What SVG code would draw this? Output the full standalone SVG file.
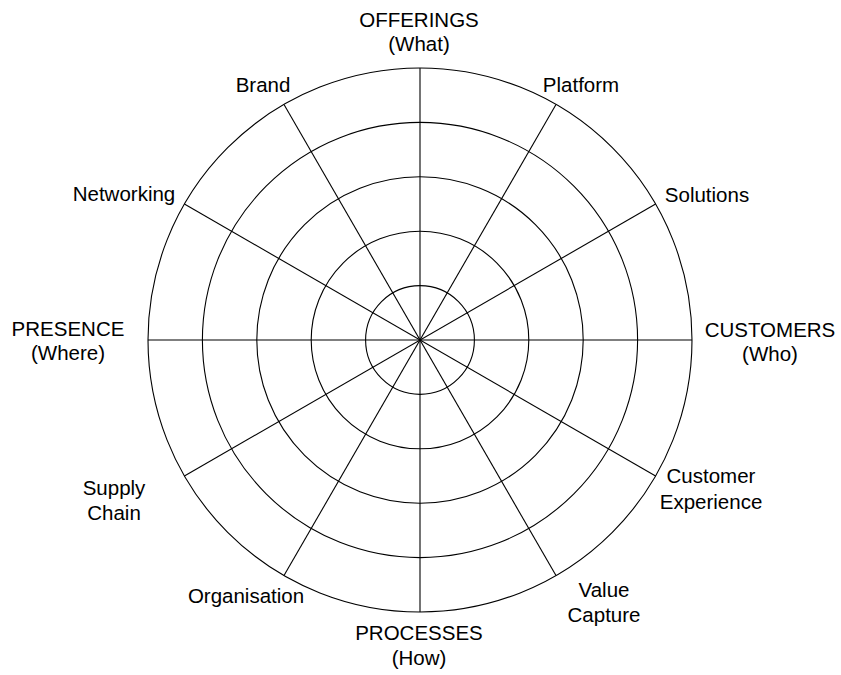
<svg xmlns="http://www.w3.org/2000/svg" width="841" height="675" viewBox="0 0 841 675">
<style>
.ring{fill:none;stroke:#000;stroke-width:1.1}
.spoke{stroke:#000;stroke-width:1.1}
text{font-family:"Liberation Sans",Arial,sans-serif;font-size:20.5px;fill:#000;text-anchor:middle}
</style>
<rect width="841" height="675" fill="#fff"/>
<g id="rings">
<circle class="ring" cx="420" cy="340" r="54.4"/>
<circle class="ring" cx="420" cy="340" r="108.8"/>
<circle class="ring" cx="420" cy="340" r="163.2"/>
<circle class="ring" cx="420" cy="340" r="217.6"/>
<circle class="ring" cx="420" cy="340" r="272"/>
</g>
<g id="connectors">
<line class="spoke" x1="420" y1="68" x2="420" y2="612"/>
<line class="spoke" x1="148" y1="340" x2="692" y2="340"/>
<line class="spoke" x1="556" y1="104.4" x2="284" y2="575.6"/>
<line class="spoke" x1="284" y1="104.4" x2="556" y2="575.6"/>
<line class="spoke" x1="655.6" y1="204" x2="184.4" y2="476"/>
<line class="spoke" x1="184.4" y1="204" x2="655.6" y2="476"/>
</g>
<g id="offerings"><text x="419" y="27">OFFERINGS</text><text x="419" y="51">(What)</text></g>
<g id="platform"><text x="581" y="92">Platform</text></g>
<g id="solutions"><text x="707" y="202">Solutions</text></g>
<g id="customers"><text x="770" y="337">CUSTOMERS</text><text x="770" y="361">(Who)</text></g>
<g id="customer-experience"><text x="711" y="483">Customer</text><text x="711" y="509">Experience</text></g>
<g id="value-capture"><text x="604" y="597">Value</text><text x="604" y="622">Capture</text></g>
<g id="processes"><text x="419" y="640">PROCESSES</text><text x="419" y="665">(How)</text></g>
<g id="organisation"><text x="246" y="603">Organisation</text></g>
<g id="supply-chain"><text x="114" y="495">Supply</text><text x="114" y="520">Chain</text></g>
<g id="presence"><text x="68" y="336">PRESENCE</text><text x="68" y="360">(Where)</text></g>
<g id="networking"><text x="124" y="201">Networking</text></g>
<g id="brand"><text x="263" y="92">Brand</text></g>
</svg>
